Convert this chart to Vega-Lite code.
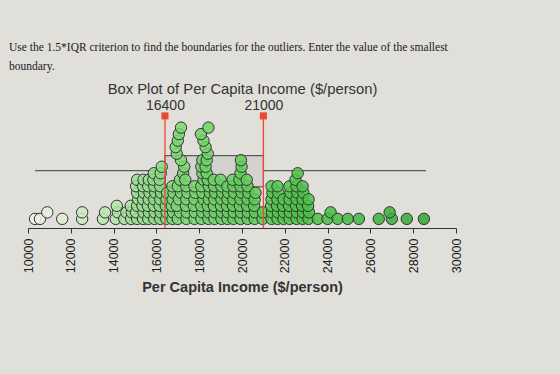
{
  "$schema": "https://vega.github.io/schema/vega-lite/v6.json",
  "width": 428,
  "height": 116,
  "autosize": {"type": "none"},
  "padding": {"left": 28, "top": 112, "right": 104, "bottom": 146},
  "background": "#e0dfda",
  "title": {
    "text": ["Use the 1.5*IQR criterion to find the boundaries for the outliers. Enter the value of the smallest", "boundary."],
    "anchor": "start",
    "frame": "group",
    "dx": -19,
    "offset": 9,
    "font": "Liberation Serif",
    "fontSize": 11.5,
    "fontWeight": "normal",
    "color": "#1a1a1a",
    "lineHeight": 19
  },
  "datasets": {
    "dots": [
      {"v": 10330, "l": 0}, {"v": 10560, "l": 0}, {"v": 10900, "l": 1}, {"v": 11600, "l": 0},
      {"v": 12530, "l": 0}, {"v": 12530, "l": 1},
      {"v": 13500, "l": 0}, {"v": 13600, "l": 1}, {"v": 14100, "l": 0}, {"v": 14200, "l": 1}, {"v": 14150, "l": 2},
      {"v": 14500, "l": 0}, {"v": 14600, "l": 1}, {"v": 14820, "l": 0}, {"v": 14850, "l": 1}, {"v": 14800, "l": 2},
      {"v": 15100, "l": 0}, {"v": 15050, "l": 1}, {"v": 15100, "l": 2}, {"v": 15150, "l": 3}, {"v": 15100, "l": 4}, {"v": 15050, "l": 5}, {"v": 15100, "l": 6},
      {"v": 15380, "l": 0}, {"v": 15400, "l": 1}, {"v": 15350, "l": 2}, {"v": 15380, "l": 3}, {"v": 15420, "l": 4}, {"v": 15380, "l": 5}, {"v": 15400, "l": 6},
      {"v": 15620, "l": 0}, {"v": 15650, "l": 1}, {"v": 15600, "l": 2}, {"v": 15640, "l": 3}, {"v": 15680, "l": 4}, {"v": 15620, "l": 5}, {"v": 15650, "l": 6},
      {"v": 15900, "l": 0}, {"v": 15920, "l": 1}, {"v": 15880, "l": 2}, {"v": 15900, "l": 3}, {"v": 15950, "l": 4}, {"v": 15900, "l": 5}, {"v": 15860, "l": 6}, {"v": 15880, "l": 7},
      {"v": 16180, "l": 0}, {"v": 16200, "l": 1}, {"v": 16150, "l": 2}, {"v": 16180, "l": 3}, {"v": 16220, "l": 4}, {"v": 16180, "l": 5}, {"v": 16150, "l": 6}, {"v": 16200, "l": 7}, {"v": 16250, "l": 8},
      {"v": 16460, "l": 0}, {"v": 16480, "l": 1}, {"v": 16440, "l": 2}, {"v": 16470, "l": 3}, {"v": 16500, "l": 4},
      {"v": 16750, "l": 0}, {"v": 16780, "l": 1}, {"v": 16720, "l": 2}, {"v": 16760, "l": 3}, {"v": 16800, "l": 4}, {"v": 16750, "l": 5},
      {"v": 17000, "l": 0}, {"v": 17100, "l": 1}, {"v": 16950, "l": 2}, {"v": 17050, "l": 3}, {"v": 17150, "l": 4}, {"v": 17000, "l": 5}, {"v": 17100, "l": 6},
      {"v": 17250, "l": 7}, {"v": 17300, "l": 8}, {"v": 17150, "l": 9}, {"v": 16950, "l": 10}, {"v": 16900, "l": 11}, {"v": 17000, "l": 12}, {"v": 17050, "l": 13}, {"v": 17150, "l": 14},
      {"v": 17400, "l": 0}, {"v": 17420, "l": 1}, {"v": 17380, "l": 2}, {"v": 17400, "l": 3}, {"v": 17450, "l": 4}, {"v": 17400, "l": 5}, {"v": 17350, "l": 6},
      {"v": 17780, "l": 0}, {"v": 17800, "l": 1}, {"v": 17750, "l": 2}, {"v": 17780, "l": 3}, {"v": 17820, "l": 4}, {"v": 17780, "l": 5},
      {"v": 18100, "l": 0}, {"v": 18150, "l": 1}, {"v": 18100, "l": 2}, {"v": 18200, "l": 3}, {"v": 18150, "l": 4}, {"v": 18100, "l": 5}, {"v": 18200, "l": 6}, {"v": 18150, "l": 7}, {"v": 18100, "l": 8}, {"v": 18150, "l": 9},
      {"v": 18430, "l": 0}, {"v": 18450, "l": 1}, {"v": 18400, "l": 2}, {"v": 18450, "l": 3}, {"v": 18500, "l": 4}, {"v": 18450, "l": 5}, {"v": 18400, "l": 6},
      {"v": 18350, "l": 7}, {"v": 18300, "l": 8}, {"v": 18350, "l": 9}, {"v": 18400, "l": 10}, {"v": 18300, "l": 11}, {"v": 18200, "l": 12}, {"v": 18080, "l": 13}, {"v": 18430, "l": 14},
      {"v": 18710, "l": 0}, {"v": 18730, "l": 1}, {"v": 18690, "l": 2}, {"v": 18710, "l": 3}, {"v": 18750, "l": 4}, {"v": 18700, "l": 5}, {"v": 18680, "l": 6},
      {"v": 19040, "l": 0}, {"v": 19060, "l": 1}, {"v": 19020, "l": 2}, {"v": 19040, "l": 3}, {"v": 19080, "l": 4}, {"v": 19040, "l": 5}, {"v": 19000, "l": 6},
      {"v": 19320, "l": 0}, {"v": 19340, "l": 1}, {"v": 19300, "l": 2}, {"v": 19320, "l": 3}, {"v": 19360, "l": 4}, {"v": 19320, "l": 5},
      {"v": 19600, "l": 0}, {"v": 19620, "l": 1}, {"v": 19580, "l": 2}, {"v": 19600, "l": 3}, {"v": 19640, "l": 4}, {"v": 19600, "l": 5}, {"v": 19560, "l": 6},
      {"v": 19930, "l": 0}, {"v": 19950, "l": 1}, {"v": 19900, "l": 2}, {"v": 19930, "l": 3}, {"v": 19980, "l": 4}, {"v": 19930, "l": 5}, {"v": 19880, "l": 6}, {"v": 19930, "l": 7}, {"v": 19980, "l": 8}, {"v": 19950, "l": 9},
      {"v": 20260, "l": 0}, {"v": 20280, "l": 1}, {"v": 20240, "l": 2}, {"v": 20260, "l": 3}, {"v": 20300, "l": 4}, {"v": 20260, "l": 5}, {"v": 20220, "l": 6},
      {"v": 20590, "l": 0}, {"v": 20610, "l": 1}, {"v": 20570, "l": 2}, {"v": 20590, "l": 3}, {"v": 20630, "l": 4},
      {"v": 20960, "l": 0}, {"v": 20980, "l": 1},
      {"v": 21380, "l": 0}, {"v": 21400, "l": 1}, {"v": 21360, "l": 2}, {"v": 21380, "l": 3}, {"v": 21420, "l": 4}, {"v": 21380, "l": 5},
      {"v": 21660, "l": 0}, {"v": 21680, "l": 1}, {"v": 21640, "l": 2}, {"v": 21660, "l": 3}, {"v": 21700, "l": 4}, {"v": 21660, "l": 5},
      {"v": 21940, "l": 0}, {"v": 21960, "l": 1}, {"v": 21920, "l": 2}, {"v": 21940, "l": 3},
      {"v": 22220, "l": 0}, {"v": 22240, "l": 1}, {"v": 22200, "l": 2}, {"v": 22220, "l": 3}, {"v": 22260, "l": 4}, {"v": 22220, "l": 5},
      {"v": 22550, "l": 0}, {"v": 22570, "l": 1}, {"v": 22530, "l": 2}, {"v": 22550, "l": 3}, {"v": 22590, "l": 4}, {"v": 22550, "l": 5}, {"v": 22500, "l": 6}, {"v": 22600, "l": 7},
      {"v": 22830, "l": 0}, {"v": 22850, "l": 1}, {"v": 22810, "l": 2}, {"v": 22830, "l": 3}, {"v": 22870, "l": 4}, {"v": 22830, "l": 5},
      {"v": 23110, "l": 0}, {"v": 23130, "l": 1}, {"v": 23090, "l": 2}, {"v": 23110, "l": 3},
      {"v": 23540, "l": 0}, {"v": 24000, "l": 0}, {"v": 24140, "l": 1}, {"v": 24470, "l": 0}, {"v": 24940, "l": 0}, {"v": 25460, "l": 0},
      {"v": 26390, "l": 0}, {"v": 27000, "l": 0}, {"v": 26900, "l": 1}, {"v": 27700, "l": 0}, {"v": 28500, "l": 0}
    ]
  },
  "layer": [
    {
      "data": {"values": [{"min": 10330, "q1": 16400, "med": 18380, "q3": 21000, "max": 28600}]},
      "mark": {"type": "rule", "color": "#5a5a5a", "strokeWidth": 1.2},
      "encoding": {
        "x": {"field": "min", "type": "quantitative", "scale": {"domain": [10000, 30000], "nice": false}, "axis": null},
        "x2": {"field": "max"},
        "y": {"datum": 7.4, "type": "quantitative", "scale": {"domain": [-1.4, 16.4], "nice": false, "zero": false}, "axis": null}
      }
    },
    {
      "data": {"values": [{"min": 10330, "q1": 16400, "med": 18380, "q3": 21000, "max": 28600}]},
      "mark": {"type": "rect", "fill": "#d3d2ce", "stroke": "#5a5a5a", "strokeWidth": 1.2},
      "encoding": {
        "x": {"field": "q1", "type": "quantitative", "axis": null},
        "x2": {"field": "q3"},
        "y": {"datum": 4.9, "type": "quantitative", "axis": null},
        "y2": {"datum": 9.7}
      }
    },
    {
      "data": {"values": [{"min": 10330, "q1": 16400, "med": 18380, "q3": 21000, "max": 28600}]},
      "mark": {"type": "rule", "color": "#5a5a5a", "strokeWidth": 1.2},
      "encoding": {
        "x": {"field": "med", "type": "quantitative", "axis": null},
        "y": {"datum": 4.9, "type": "quantitative", "axis": null},
        "y2": {"datum": 9.7}
      }
    },
    {
      "data": {"name": "dots"},
      "mark": {"type": "circle", "size": 130, "stroke": "#333333", "strokeWidth": 1, "fillOpacity": 0.85, "opacity": 1},
      "encoding": {
        "x": {
          "field": "v", "type": "quantitative",
          "axis": {
            "orient": "bottom",
            "values": [10000, 12000, 14000, 16000, 18000, 20000, 22000, 24000, 26000, 28000, 30000],
            "format": "d",
            "labelAngle": -90,
            "labelFont": "Liberation Sans",
            "labelFontSize": 12.5,
            "labelColor": "#1a1a1a",
            "labelPadding": 5,
            "tickSize": 5,
            "tickColor": "#333333",
            "domainColor": "#333333",
            "domainWidth": 1,
            "grid": false,
            "title": "Per Capita Income ($/person)",
            "titleFont": "Liberation Sans",
            "titleFontSize": 14.5,
            "titleFontWeight": "bold",
            "titleColor": "#333333",
            "titlePadding": 8
          }
        },
        "y": {"field": "l", "type": "quantitative", "axis": null},
        "color": {
          "field": "v", "type": "quantitative",
          "scale": {"domain": [10000, 14000, 17000, 22000, 28500], "range": ["#f2f5ee", "#b2e6aa", "#7ad872", "#50c84b", "#33a833"]},
          "legend": null
        }
      }
    },
    {
      "data": {"values": [{"q": 16400}, {"q": 21000}]},
      "mark": {"type": "rule", "color": "#ec4a30", "strokeWidth": 1.3},
      "encoding": {
        "x": {
          "field": "q", "type": "quantitative",
          "axis": {
            "orient": "top",
            "values": [16400, 21000],
            "format": "d",
            "ticks": false,
            "domain": false,
            "grid": false,
            "labelFont": "Liberation Sans",
            "labelFontSize": 14,
            "labelColor": "#333333",
            "labelPadding": 0,
            "title": "Box Plot of Per Capita Income ($/person)",
            "titleFont": "Liberation Sans",
            "titleFontSize": 14.8,
            "titleFontWeight": "normal",
            "titleColor": "#333333",
            "titlePadding": 2
          }
        },
        "y": {"datum": 15.8, "type": "quantitative", "axis": null},
        "y2": {"datum": -1.4}
      }
    },
    {
      "data": {"values": [{"q": 16400}, {"q": 21000}]},
      "mark": {"type": "square", "size": 50, "color": "#ec4a30", "opacity": 1, "filled": true},
      "encoding": {
        "x": {"field": "q", "type": "quantitative", "axis": null},
        "y": {"datum": 15.8, "type": "quantitative", "axis": null}
      }
    }
  ],
  "resolve": {"axis": {"x": "independent"}},
  "config": {"view": {"stroke": null}}
}
